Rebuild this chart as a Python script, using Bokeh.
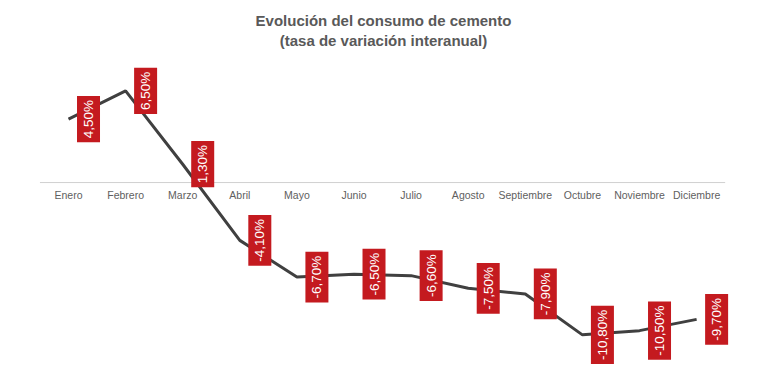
import math
from bokeh.plotting import figure
from bokeh.models import ColumnDataSource, Range1d, Label
from bokeh.core.properties import value
from bokeh.embed import file_html
from bokeh.resources import INLINE

months = ["Enero", "Febrero", "Marzo", "Abril", "Mayo", "Junio", "Julio",
          "Agosto", "Septiembre", "Octubre", "Noviembre", "Diciembre"]
values = [4.5, 6.5, 1.3, -4.1, -6.7, -6.5, -6.6, -7.5, -7.9, -10.8, -10.5, -9.7]
title_lines = ["Evolución del consumo de cemento", "(tasa de variación interanual)"]

xs = list(range(len(months)))
labels = [("%.2f%%" % v).replace(".", ",") for v in values]

src = ColumnDataSource(dict(x=xs, y=values, lab=labels, month=months,
                            zero=[0] * len(xs)))

W, H = 749, 373
p = figure(width=W, height=H, output_backend="svg", toolbar_location=None,
           x_range=Range1d(-1.191, 11.926), y_range=Range1d(-13.54, 12.91),
           min_border=0, outline_line_color=None, background_fill_color="white",
           border_fill_color="white")
p.axis.visible = False
p.grid.visible = False

# zero axis line
p.segment(x0=-0.5, x1=len(months) - 0.5, y0=0, y1=0, line_color="#d0d0d0", line_width=1)

# month labels
p.text(x="x", y="zero", text="month", source=src, text_align="center",
       text_baseline="middle", y_offset=12, text_font=value("Liberation Sans"),
       text_font_size="10.5px", text_color="#606060")

# line
p.line(x="x", y="y", source=src, line_color="#404040", line_width=3)

# red value labels
p.text(x="x", y="y", text="lab", source=src, angle=math.pi / 2, x_offset=20,
       text_align="center", text_baseline="middle",
       text_font=value("Liberation Sans"), text_font_size="13.5px",
       text_color="white", background_fill_color="#c41a1f",
       padding=4)

# title
for i, t in enumerate(title_lines):
    p.add_layout(Label(x=383, y=H - 20 - 20 * i, x_units="screen", y_units="screen",
                       text=t, text_align="center", text_baseline="middle",
                       text_font="Liberation Sans", text_font_style="bold",
                       text_font_size="15px", text_color="#595959"))

open("out.html", "w").write(file_html(p, INLINE))
